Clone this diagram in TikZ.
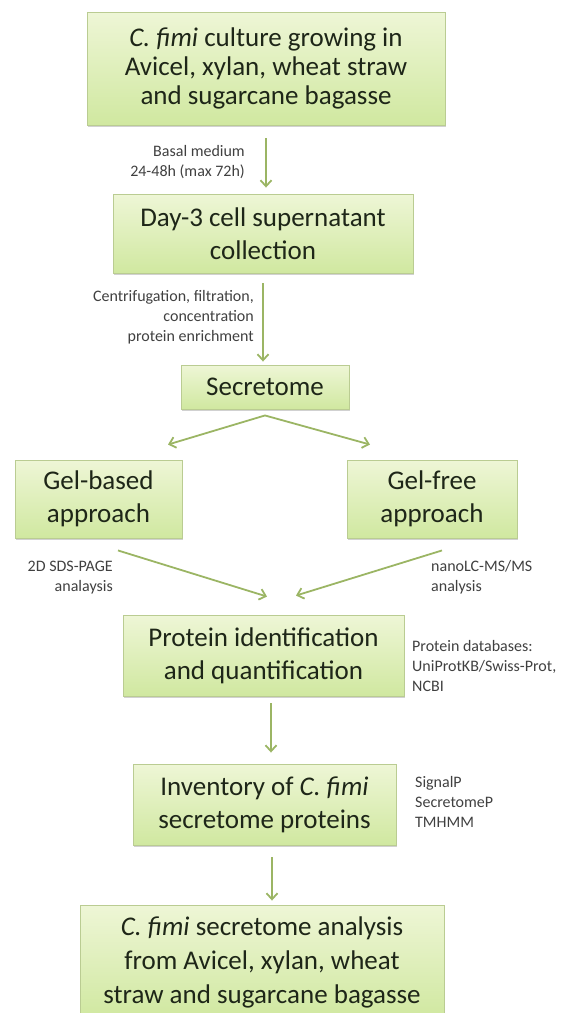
\documentclass[tikz,border=0pt]{standalone}
\usepackage{fontspec}
\setmainfont{Carlito}
\usetikzlibrary{arrows.meta,shadows,calc}
\definecolor{boxtop}{RGB}{238,246,214}
\definecolor{boxbot}{RGB}{208,232,160}
\definecolor{boxline}{RGB}{186,204,146}
\definecolor{boxtext}{RGB}{30,38,24}
\definecolor{flowgreen}{RGB}{155,181,100}
\definecolor{notegray}{RGB}{64,64,64}
\newcommand{\cfimi}{\textit{C. fimi}}

\begin{document}
\begin{tikzpicture}[x=1pt, y=-1pt,
  stage/.style={draw=boxline, line width=0.9pt, top color=boxtop, bottom color=boxbot,
    text=boxtext, align=center, inner sep=0pt, font=\fontsize{27}{33}\selectfont,
    drop shadow={shadow xshift=1.2pt, shadow yshift=-1.8pt, opacity=0.3, fill=black!60}},
  note/.style={text=notegray, inner sep=0pt, font=\fontsize{16}{20}\selectfont},
  flow/.style={draw=flowgreen, line width=1.8pt, -{Straight Barb[length=6pt, width=11pt, line width=1.8pt]}}]
  \useasboundingbox (0,0) rectangle (568,1013);
  \node[stage, minimum width=358pt, minimum height=113pt, font=\fontsize{27}{29}\selectfont] (culture) at (266,68.5) {\cfimi{} culture growing in\\Avicel, xylan, wheat straw\\and sugarcane bagasse};
  \node[stage, minimum width=300pt, minimum height=79pt] (supernatant) at (263,233.5) {Day-3 cell supernatant\\collection};
  \node[stage, minimum width=168pt, minimum height=44pt] (secretome) at (265,387) {Secretome};
  \node[stage, minimum width=167pt, minimum height=78pt] (gelbased) at (98.5,499) {Gel-based\\approach};
  \node[stage, minimum width=170pt, minimum height=78pt] (gelfree) at (432,499) {Gel-free\\approach};
  \node[stage, minimum width=281pt, minimum height=81pt] (identify) at (263.5,655.5) {Protein identification\\and quantification};
  \node[stage, minimum width=263pt, minimum height=81pt] (inventory) at (264.5,804.5) {Inventory of \cfimi\\secretome proteins};
  \node[stage, minimum width=364pt, minimum height=114pt, font=\fontsize{27}{34}\selectfont] (analysis) at (262,962) {\cfimi{} secretome analysis\\from Avicel, xylan, wheat\\straw and sugarcane bagasse};

  \node[note, anchor=east, align=right] (basal) at (245,162) {Basal medium\\24-48h (max 72h)};
  \node[note, anchor=east, align=right] (spin) at (254,317) {Centrifugation, filtration,\\concentration\\protein enrichment};
  \node[note, anchor=east, align=right] (sds) at (113,578) {2D SDS-PAGE\\analaysis};
  \node[note, anchor=west, align=left] (lcms) at (431,577) {nanoLC-MS/MS\\analysis};
  \node[note, anchor=west, align=left] (dbs) at (412,666) {Protein databases:\\UniProtKB/Swiss-Prot,\\NCBI};
  \node[note, anchor=west, align=left] (tools) at (415,802) {SignalP\\SecretomeP\\TMHMM};

  \draw[flow, shorten <=13pt, shorten >=6pt] (culture.south) -- (culture.south |- supernatant.north);
  \draw[flow, shorten <=10pt, shorten >=3pt] (supernatant.south) -- (supernatant.south |- secretome.north);
  \draw[flow] ($(secretome.south)+(0,6)$) -- ($(gelbased.north)+(69.5,-15)$);
  \draw[flow] ($(secretome.south)+(0,6)$) -- ($(gelfree.north)+(-62,-15)$);
  \draw[flow] ($(gelbased.south)+(19.5,12)$) -- ($(identify.north)+(3.5,-18)$);
  \draw[flow] ($(gelfree.south)+(10,12)$) -- ($(identify.north)+(32.5,-19)$);
  \draw[flow, shorten <=7pt, shorten >=11pt] ([xshift=7.5pt]identify.south) -- ([xshift=7.5pt]identify.south |- inventory.north);
  \draw[flow, shorten <=12pt, shorten >=4pt] ([xshift=7.5pt]inventory.south) -- ([xshift=7.5pt]inventory.south |- analysis.north);
\end{tikzpicture}
\end{document}
